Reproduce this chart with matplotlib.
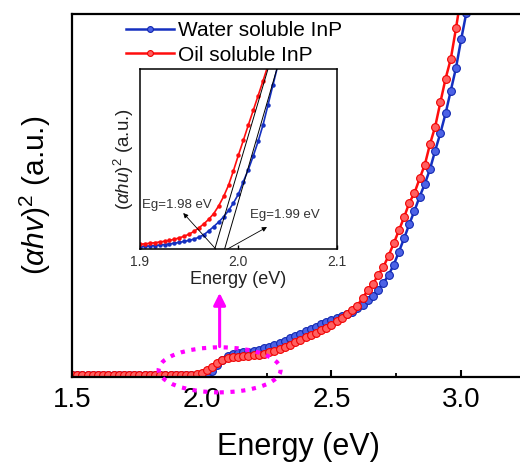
import numpy as np
import matplotlib
matplotlib.use("Agg")
from matplotlib import pyplot as plt
from matplotlib.patches import Ellipse

plt.rcParams['font.family'] = ['Liberation Sans', 'DejaVu Sans']
plt.rcParams['mathtext.fontset'] = 'custom'
plt.rcParams['mathtext.rm'] = 'Liberation Sans'
plt.rcParams['mathtext.it'] = 'Liberation Sans:italic'

# main plot: (alpha h v)^2 vs photon energy, sampled every 0.02 eV
energy = np.round(np.arange(1.50, 3.021, 0.02), 2)
water = [0.005, 0.005, 0.005, 0.005, 0.005, 0.005, 0.005, 0.005, 0.005, 0.005,
         0.005, 0.005, 0.005, 0.005, 0.005, 0.005, 0.005, 0.005, 0.005, 0.005,
         0.005, 0.005, 0.005, 0.005, 0.005,
         0.006, 0.008, 0.018, 0.033, 0.048, 0.058, 0.064, 0.067, 0.069, 0.070,
         0.072, 0.075, 0.079, 0.083, 0.088, 0.094, 0.100, 0.107, 0.114, 0.120,
         0.127, 0.133, 0.139, 0.145, 0.152, 0.158, 0.164, 0.168, 0.173, 0.180,
         0.189, 0.198, 0.211, 0.224, 0.241, 0.259, 0.281, 0.309, 0.345, 0.382,
         0.421, 0.458, 0.497, 0.532, 0.573, 0.624, 0.672, 0.726, 0.789, 0.851,
         0.930, 1.003]
oil = [0.005, 0.005, 0.005, 0.005, 0.005, 0.005, 0.005, 0.005, 0.005, 0.005,
       0.005, 0.005, 0.005, 0.005, 0.005, 0.005, 0.005, 0.005, 0.005, 0.005,
       0.005, 0.005, 0.005,
       0.006, 0.008, 0.012, 0.019, 0.029, 0.039, 0.047, 0.052, 0.055, 0.056,
       0.057, 0.058, 0.060, 0.062, 0.065, 0.068, 0.072, 0.077, 0.083, 0.089,
       0.096, 0.103, 0.110, 0.116, 0.122, 0.129, 0.136, 0.144, 0.154, 0.164,
       0.173, 0.184, 0.197, 0.218, 0.239, 0.256, 0.282, 0.303, 0.334, 0.368,
       0.404, 0.440, 0.480, 0.507, 0.547, 0.585, 0.642, 0.690, 0.757, 0.822,
       0.876, 0.960, 1.050, 1.140]

# inset: zoom on the absorption edge, sampled every 0.005 eV
energy_in = np.round(np.arange(1.900, 2.0401, 0.005), 3)
water_in = [0.013, 0.015, 0.017, 0.019, 0.022, 0.025, 0.028, 0.032, 0.037, 0.042,
            0.048, 0.055, 0.066, 0.080, 0.101, 0.125, 0.150, 0.179, 0.214, 0.256,
            0.305, 0.375, 0.440, 0.516, 0.598, 0.690, 0.800, 0.910, 1.020]
oil_in = [0.026, 0.029, 0.032, 0.035, 0.039, 0.043, 0.048, 0.054, 0.062, 0.071,
          0.083, 0.098, 0.118, 0.140, 0.166, 0.197, 0.240, 0.292, 0.355, 0.436,
          0.522, 0.604, 0.688, 0.770, 0.852, 0.935, 1.020, 1.100, 1.190]

# Tauc tangents (x at y=0, x at y=1)
tan_oil = ([1.976, 2.030], [0.0, 1.0])
tan_water = ([1.986, 2.039], [0.0, 1.0])

blue = '#1530c0'
red = '#ff0d0d'


def main():
    fig = plt.figure(figsize=(5.2, 4.65), dpi=100)
    ax = fig.add_axes([0.1385, 0.189, 0.898, 0.781])

    ax.plot(energy, water, '-o', color=blue, lw=1.8, ms=5.6,
            mfc='#4c62e6', mec='#1228b0', mew=0.8, label='Water soluble InP')
    ax.plot(energy, oil, '-o', color=red, lw=1.8, ms=5.6,
            mfc='#ff6060', mec='#f00000', mew=0.8, label='Oil soluble InP')

    ax.set_xlim(1.5, 3.3)
    ax.set_ylim(0, 1)
    ax.set_xticks([1.5, 2.0, 2.5, 3.0])
    ax.set_xticks([1.75, 2.25, 2.75], minor=True)
    ax.set_yticks([])
    ax.tick_params(axis='x', which='major', direction='in', length=5, width=1.5,
                   labelsize=20, pad=7)
    ax.tick_params(axis='x', which='minor', direction='in', length=3, width=1.3)
    for s in ax.spines.values():
        s.set_linewidth(1.6)

    ax.set_xlabel('Energy (eV)', fontsize=22)
    ax.xaxis.set_label_coords(0.484, -0.15)
    ax.set_ylabel(r'($\mathit{\alpha hv}$)$^{2}$ (a.u.)', fontsize=21.5, labelpad=14)

    ax.legend(loc='upper left', bbox_to_anchor=(0.088, 1.014), frameon=False,
              fontsize=15, handlelength=2.3, handletextpad=0.2, labelspacing=0.25,
              borderpad=0.1, numpoints=1, markerscale=0.75)

    ell = Ellipse((2.069, 0.020), 0.47, 0.124, fill=False, ec='#ff00ff', lw=3,
                  ls=(0, (1, 1.6)), clip_on=False, zorder=5)
    ax.add_patch(ell)
    ax.annotate('', xy=(2.069, 0.232), xytext=(2.069, 0.084),
                arrowprops=dict(arrowstyle='-|>', color='#ff00ff', lw=2.2,
                                mutation_scale=18, shrinkA=0, shrinkB=0))

    # inset
    ins = fig.add_axes([0.269, 0.4645, 0.379, 0.387])
    ins.plot(energy_in, water_in, '-o', color=blue, lw=1.2, ms=2.2, mec=blue)
    ins.plot(energy_in, oil_in, '-o', color=red, lw=1.2, ms=2.2, mec=red)
    ins.plot(*tan_oil, color='k', lw=0.7)
    ins.plot(*tan_water, color='k', lw=0.7)
    ins.set_xlim(1.9, 2.1)
    ins.set_ylim(0, 1)
    ins.set_xticks([1.9, 2.0, 2.1])
    ins.set_yticks([])
    ins.tick_params(axis='x', direction='in', length=3, width=1, labelsize=10,
                    labelcolor='#333333', pad=4)
    for s in ins.spines.values():
        s.set_linewidth(1.1)
    ins.set_xlabel('Energy (eV)', fontsize=13, labelpad=2, color='#222222')
    ins.set_ylabel(r'($\mathit{\alpha hu}$)$^{2}$ (a.u.)', fontsize=13.5,
                   labelpad=3, color='#222222')

    ins.annotate('Eg=1.98 eV', xy=(1.944, 0.20), xytext=(1.902, 0.245),
                 fontsize=9.5, color='#333333', va='center')
    ins.annotate('', xy=(1.944, 0.20), xytext=(1.977, 0.0),
                 arrowprops=dict(arrowstyle='-|>', color='k', lw=0.6,
                                 mutation_scale=7, shrinkA=0, shrinkB=0))
    ins.annotate('Eg=1.99 eV', xy=(2.029, 0.12), xytext=(2.012, 0.19),
                 fontsize=9.5, color='#333333', va='center')
    ins.annotate('', xy=(2.029, 0.122), xytext=(1.989, 0.0),
                 arrowprops=dict(arrowstyle='-|>', color='k', lw=0.6,
                                 mutation_scale=7, shrinkA=0, shrinkB=0))

    fig.savefig('out.png', dpi=100)


if __name__ == "__main__":
    main()
